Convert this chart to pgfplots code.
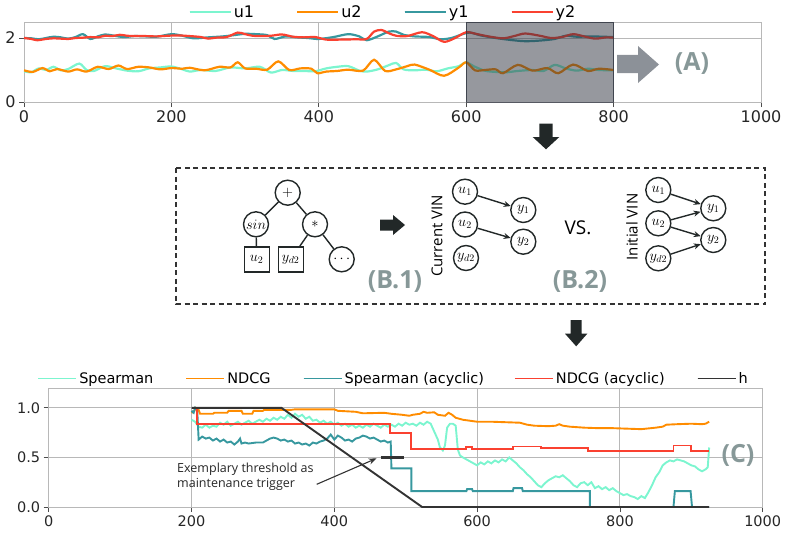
\documentclass[border=0pt]{standalone}
\usepackage{fontspec}
\setmainfont{DejaVu Sans}
\newfontfamily\osans{Open Sans}
\usepackage{pgfplots}
\pgfplotsset{compat=1.18}
\usetikzlibrary{arrows.meta}

\definecolor{cmint}{HTML}{7CF5CF}
\definecolor{corange}{HTML}{FF8C00}
\definecolor{cteal}{HTML}{37989F}
\definecolor{cred}{HTML}{FA4130}
\definecolor{cdark}{HTML}{333333}
\definecolor{cblk}{HTML}{222828}
\definecolor{cgridc}{HTML}{B8B8B8}
\definecolor{clabel}{RGB}{135,152,152}
\definecolor{cbox}{RGB}{45,50,62}
\definecolor{carrowg}{RGB}{140,145,152}

\newcommand{\gap}[1]{\rule{#1}{0pt}}

\pgfplotsset{
  common/.style={
    scale only axis,
    grid=major,
    grid style={color=cgridc, line width=0.9pt},
    axis line style={cgridc, line width=0.9pt},
    tick align=outside,
    major tick length=5pt,
    tick style={color=black!70, line width=0.8pt},
    xtick pos=bottom, ytick pos=left,
    /pgf/number format/assume math mode=true,
    /pgf/number format/1000 sep={},
    legend cell align=left,
    legend image code/.code={\draw[##1] (0pt,0pt) -- (32pt,0pt); \path (0pt,0pt) -- (41pt,0pt);},
  },
}

\begin{document}
\begin{tikzpicture}

% ---------------- (A) signals ----------------
\begin{axis}[common,
  at={(24pt,-102pt)}, anchor=south west,
  width=737pt, height=80pt,
  xmin=0, xmax=1000, ymin=0, ymax=2.5,
  xtick={0,200,...,1000}, ytick={0,2},
  ticklabel style={font=\fontsize{16}{16}\selectfont, text=black!85},
  legend columns=4,
  legend style={at={(0.487,1)}, anchor=south, draw=none, fill=none,
    font=\fontsize{16}{16}\selectfont, inner sep=1pt},
  every axis plot/.append style={line width=2.2pt},
]
% u1
\addplot[cmint, smooth] coordinates {(0,0.96)(10,0.93)(20,1.05)(30,1.0)(40,1.1)(50,0.99)(60,1.03)(75,1.2)(85,1.0)(95,0.97)(110,1.12)(125,1.05)(140,0.98)(155,0.96)(170,1.05)(185,1.08)(200,1.11)(215,1.02)(225,0.95)(240,1.0)(260,0.97)(280,1.08)(300,1.05)(320,1.1)(335,0.92)(350,1.0)(365,0.97)(380,0.97)(395,0.96)(410,1.05)(425,1.1)(440,1.12)(455,0.98)(465,0.95)(480,1.02)(495,1.15)(505,1.22)(515,1.02)(530,0.99)(545,1.01)(560,0.96)(575,1.05)(590,1.12)(600,1.24)(610,1.12)(625,0.98)(640,0.94)(655,0.93)(670,0.97)(690,1.0)(705,0.97)(720,1.16)(735,1.05)(750,0.98)(765,1.04)(780,1.0)(800,0.99)};
\addlegendentry{u1\gap{40pt}}
% u2
\addplot[corange, smooth] coordinates {(0,0.99)(12,0.94)(25,1.06)(35,0.96)(45,1.03)(60,0.95)(72,1.02)(85,0.95)(100,1.1)(115,1.03)(128,1.14)(140,1.03)(155,1.1)(170,1.08)(185,1.02)(200,1.06)(215,1.04)(225,1.07)(245,0.99)(265,1.1)(280,1.08)(290,1.24)(300,1.05)(315,1.04)(330,1.01)(345,1.27)(360,1.0)(375,1.05)(390,1.04)(398,0.9)(410,0.95)(425,0.97)(440,1.01)(460,0.98)(475,1.32)(490,0.97)(505,1.02)(520,1.12)(530,1.17)(550,1.01)(570,0.82)(590,1.08)(600,1.24)(612,0.99)(625,1.0)(640,1.02)(650,0.9)(670,1.16)(690,0.98)(710,1.06)(725,0.9)(745,1.17)(765,0.97)(780,1.04)(800,1.0)};
\addlegendentry{u2\gap{40pt}}
% y1
\addplot[cteal, smooth] coordinates {(0,2.0)(10,1.99)(20,1.96)(30,2.0)(40,2.04)(50,2.02)(60,1.98)(70,2.03)(80,2.12)(90,1.97)(100,2.05)(110,2.11)(120,2.08)(135,2.03)(150,2.06)(165,2.05)(180,2.04)(200,2.12)(215,2.07)(230,1.99)(250,2.02)(270,2.05)(285,2.09)(300,2.13)(315,2.12)(330,2.09)(340,1.97)(355,2.05)(370,2.02)(385,2.0)(400,1.97)(420,2.03)(440,2.12)(455,2.05)(465,1.93)(480,2.05)(495,2.2)(505,2.2)(515,2.1)(530,2.05)(550,2.03)(565,1.96)(580,2.0)(595,2.12)(605,2.17)(620,2.08)(640,2.0)(660,1.94)(680,1.9)(700,1.92)(720,1.97)(735,2.07)(750,2.04)(770,2.05)(785,2.04)(800,2.03)};
\addlegendentry{y1\gap{40pt}}
% y2
\addplot[cred, smooth] coordinates {(0,2.0)(10,1.97)(18,1.93)(30,1.97)(40,1.99)(50,1.98)(60,1.97)(70,2.0)(80,2.01)(90,2.03)(100,2.02)(110,2.07)(120,2.06)(130,2.1)(140,2.07)(150,2.06)(165,2.06)(180,2.05)(195,2.07)(210,2.08)(225,2.06)(240,2.03)(250,1.98)(260,2.01)(275,2.03)(290,2.17)(300,2.12)(310,2.07)(320,2.06)(335,2.07)(350,2.11)(365,2.04)(380,2.02)(395,2.03)(410,1.95)(430,1.95)(450,1.96)(465,1.97)(475,2.2)(485,2.25)(495,2.15)(505,2.07)(520,2.06)(540,2.18)(555,2.06)(570,1.88)(585,2.0)(600,2.18)(615,2.12)(630,2.05)(650,1.99)(665,2.06)(680,2.14)(700,2.07)(715,2.0)(730,2.03)(745,2.12)(760,2.05)(775,1.98)(790,2.02)(800,2.01)};
\addlegendentry{y2}
\fill[cbox, fill opacity=0.5] (axis cs:600,0) rectangle (axis cs:800,2.5);
\draw[cbox, opacity=0.7, line width=0.8pt] (axis cs:600,0) rectangle (axis cs:800,2.5);
\end{axis}

% ---------------- (C) rankings ----------------
\begin{axis}[common,
  at={(48.7pt,-507pt)}, anchor=south west,
  width=714pt, height=119pt,
  xmin=0, xmax=1000, ymin=0, ymax=1.2,
  xtick={0,200,...,1000}, ytick={0,0.5,1.0},
  yticklabel style={/pgf/number format/.cd, fixed, fixed zerofill, precision=1},
  ticklabel style={font=\fontsize{14.5}{14.5}\selectfont, text=black!85},
  legend columns=5,
  legend style={at={(0.483,1)}, anchor=south, draw=none, fill=none,
    font=\fontsize{14.5}{14.5}\selectfont, inner sep=1pt},
  legend image code/.code={\draw[#1] (0pt,0pt) -- (31pt,0pt); \path (0pt,0pt) -- (38pt,0pt);},
  every axis plot/.append style={line width=1.9pt},
]
% Spearman
\addplot[cmint] coordinates {(200,0.88)(205,0.86)(210,0.81)(215,0.80)(220,0.83)(225,0.80)(230,0.82)(235,0.81)(240,0.85)(245,0.83)(250,0.86)(255,0.82)(260,0.84)(265,0.86)(270,0.83)(275,0.85)(280,0.87)(285,0.84)(290,0.86)(295,0.88)(300,0.86)(305,0.89)(310,0.87)(315,0.90)(320,0.88)(325,0.91)(330,0.89)(335,0.93)(340,0.90)(345,0.94)(350,0.91)(355,0.93)(360,0.89)(365,0.91)(370,0.87)(375,0.88)(380,0.85)(385,0.87)(390,0.84)(395,0.86)(400,0.83)(405,0.85)(410,0.82)(415,0.84)(420,0.81)(425,0.83)(430,0.80)(435,0.82)(440,0.80)(445,0.83)(450,0.81)(455,0.84)(460,0.82)(465,0.80)(470,0.83)(475,0.81)(480,0.83)(485,0.81)(490,0.84)(495,0.82)(500,0.85)(505,0.83)(510,0.84)(515,0.82)(520,0.85)(525,0.83)(530,0.86)(535,0.84)(540,0.76)(545,0.68)(548,0.60)(552,0.57)(555,0.62)(558,0.80)(562,0.84)(566,0.84)(570,0.82)(573,0.58)(576,0.52)(580,0.50)(585,0.48)(590,0.46)(595,0.44)(600,0.42)(605,0.45)(610,0.43)(615,0.46)(620,0.44)(625,0.47)(630,0.45)(635,0.48)(640,0.46)(645,0.50)(650,0.47)(655,0.44)(660,0.40)(665,0.37)(670,0.33)(675,0.30)(680,0.26)(685,0.22)(690,0.20)(695,0.24)(700,0.27)(705,0.29)(710,0.31)(715,0.30)(720,0.32)(725,0.29)(730,0.26)(735,0.22)(740,0.20)(745,0.24)(750,0.25)(755,0.22)(760,0.25)(765,0.19)(770,0.21)(775,0.18)(780,0.20)(785,0.17)(790,0.19)(795,0.16)(800,0.14)(805,0.12)(810,0.13)(815,0.11)(820,0.10)(825,0.08)(830,0.11)(835,0.09)(840,0.15)(845,0.22)(850,0.30)(855,0.35)(860,0.42)(865,0.45)(870,0.47)(875,0.46)(880,0.48)(885,0.47)(890,0.46)(895,0.44)(900,0.42)(905,0.41)(910,0.38)(915,0.36)(920,0.38)(923,0.40)(925,0.60)};
\addlegendentry{Spearman\gap{30pt}}
% NDCG
\addplot[corange] coordinates {(200,0.95)(204,0.97)(206,1.0)(210,0.98)(212,0.94)(230,0.94)(232,0.95)(250,0.95)(252,0.97)(270,0.97)(272,0.94)(285,0.94)(287,0.97)(300,0.97)(302,0.98)(340,0.98)(345,0.985)(400,0.985)(405,0.97)(430,0.96)(440,0.945)(470,0.95)(480,0.94)(495,0.93)(505,0.92)(510,0.93)(520,0.94)(525,0.96)(530,0.95)(540,0.955)(545,0.93)(555,0.92)(560,0.95)(565,0.93)(570,0.90)(580,0.88)(590,0.87)(600,0.86)(620,0.86)(640,0.855)(660,0.85)(670,0.83)(680,0.82)(700,0.815)(710,0.82)(715,0.835)(720,0.82)(730,0.81)(750,0.80)(770,0.795)(790,0.795)(810,0.79)(830,0.785)(850,0.80)(860,0.81)(865,0.83)(880,0.835)(900,0.84)(915,0.835)(920,0.84)(925,0.86)};
\addlegendentry{NDCG\gap{30pt}}
% Spearman (acyclic)
\addplot[cteal] coordinates {(200,0.97)(203,0.95)(205,1.0)(208,0.98)(210,0.68)(215,0.71)(220,0.69)(225,0.70)(230,0.67)(235,0.69)(240,0.66)(245,0.68)(250,0.65)(255,0.66)(260,0.63)(265,0.66)(268,0.69)(270,0.64)(275,0.65)(280,0.64)(290,0.65)(300,0.65)(305,0.67)(310,0.69)(315,0.70)(320,0.69)(325,0.67)(330,0.68)(335,0.66)(340,0.67)(345,0.64)(350,0.65)(355,0.63)(360,0.64)(365,0.62)(370,0.65)(375,0.64)(380,0.66)(385,0.67)(390,0.69)(395,0.73)(400,0.68)(405,0.72)(410,0.70)(415,0.67)(420,0.68)(425,0.66)(430,0.69)(435,0.70)(440,0.72)(445,0.71)(450,0.69)(455,0.70)(460,0.68)(465,0.66)(470,0.67)(475,0.65)(479,0.66)(480,0.39)(508,0.39)(508,0.16)(585,0.16)(586,0.18)(593,0.18)(594,0.16)(650,0.16)(651,0.19)(663,0.19)(664,0.16)(758,0.16)(758,0)(875,0)(877,0.16)(899,0.16)(901,0)(925,0)};
\addlegendentry{Spearman (acyclic)\gap{28pt}}
% NDCG (acyclic)
\addplot[cred] coordinates {(200,1.0)(208,1.0)(208,0.835)(478,0.835)(478,0.75)(508,0.75)(508,0.585)(585,0.585)(585,0.605)(593,0.605)(593,0.585)(650,0.585)(650,0.61)(690,0.61)(690,0.595)(755,0.595)(755,0.565)(875,0.565)(875,0.62)(899,0.62)(899,0.565)(925,0.565)};
\addlegendentry{NDCG (acyclic)\gap{30pt}}
% h
\addplot[cdark] coordinates {(200,1.0)(326,1.0)(523,0)(925,0)};
\addlegendentry{h}
% threshold
\addplot[cdark, line width=3.5pt, forget plot] coordinates {(465,0.5)(498,0.5)};
\end{axis}

% annotations of (C)
\node[anchor=west, align=left, font=\osans\fontsize{12.5}{15}\selectfont, text=black!85, inner sep=0pt]
  at (177pt,-476.5pt) {Exemplary threshold as\\maintenance trigger};
\draw[-{Stealth[length=8pt,width=6pt]}, cdark, line width=1.1pt] (316.7pt,-484.3pt) -- (376.7pt,-458.3pt);
\node[font=\osans\bfseries\fontsize{25}{25}\selectfont, text=clabel] at (738pt,-455pt) {(C)};

% (A) label and arrow
\fill[carrowg] (617pt,-55pt) -- (638pt,-55pt) -- (638pt,-46pt) -- (659pt,-64.5pt) -- (638pt,-83pt) -- (638pt,-73pt) -- (617pt,-73pt) -- cycle;
\node[font=\osans\bfseries\fontsize{25}{25}\selectfont, text=clabel] at (692pt,-64pt) {(A)};

% down arrows
\fill[cblk] (539.3pt,-123.7pt) -- (552.7pt,-123.7pt) -- (552.7pt,-137pt) -- (559.3pt,-137pt) -- (546pt,-149.3pt) -- (532.7pt,-137pt) -- (539.3pt,-137pt) -- cycle;
\fill[cblk] (570.7pt,-320pt) -- (581.7pt,-320pt) -- (581.7pt,-333.7pt) -- (587.3pt,-333.7pt) -- (576.2pt,-346.3pt) -- (565pt,-333.7pt) -- (570.7pt,-333.7pt) -- cycle;

% ---------------- (B) diagram ----------------
\draw[cdark, line width=2pt, dash pattern=on 5pt off 3.5pt] (176pt,-168pt) rectangle (765pt,-304pt);
\begin{scope}[
  vn/.style={circle, draw=cblk, line width=1.4pt, minimum size=25pt, inner sep=0pt, font=\fontsize{14}{14}\selectfont},
  sq/.style={rectangle, draw=cblk, line width=1.4pt, minimum size=25pt, inner sep=0pt, font=\fontsize{14}{14}\selectfont},
  ed/.style={cblk, line width=1.4pt},
  ar/.style={cblk, line width=1.4pt, -{Stealth[length=7pt,width=6pt]}},
]
% expression tree
\node[vn] (p) at (287.7pt,-192.7pt) {$+$};
\node[vn, font=\fontsize{15}{15}\selectfont] (s) at (256pt,-224.3pt) {$sin$};
\node[vn] (m) at (315pt,-224.3pt) {$*$};
\node[sq] (a) at (256.7pt,-259.3pt) {$u_2$};
\node[sq] (b) at (290.7pt,-259.3pt) {$y_{d2}$};
\node[vn] (c) at (341.7pt,-259.3pt) {$\cdots$};
\draw[ed] (p) -- (s); \draw[ed] (p) -- (m);
\draw[ed] (s) -- (a); \draw[ed] (m) -- (b); \draw[ed] (m) -- (c);
\fill[cblk] (380pt,-219.5pt) -- (393pt,-219.5pt) -- (393pt,-215pt) -- (405pt,-225pt) -- (393pt,-235pt) -- (393pt,-230.5pt) -- (380pt,-230.5pt) -- cycle;
\node[font=\osans\bfseries\fontsize{25}{25}\selectfont, text=clabel] at (395pt,-281.5pt) {(B.1)};
% current VIN
\node[rotate=90, font=\osans\fontsize{15}{15}\selectfont] at (437pt,-236pt) {Current VIN};
\node[vn] (cu1) at (465pt,-191.7pt) {$u_1$};
\node[vn] (cu2) at (465pt,-224.5pt) {$u_2$};
\node[vn] (cyd) at (466pt,-258pt) {$y_{d2}$};
\node[vn] (cy1) at (523.3pt,-210pt) {$y_1$};
\node[vn] (cy2) at (523.3pt,-241.7pt) {$y_2$};
\draw[ar] (cu1) -- (cy1); \draw[ar] (cu2) -- (cy2);
\node[font=\osans\fontsize{19}{19}\selectfont] at (578pt,-228pt) {VS.};
\node[font=\osans\bfseries\fontsize{25}{25}\selectfont, text=clabel] at (580pt,-281.7pt) {(B.2)};
% initial VIN
\node[rotate=90, font=\osans\fontsize{15}{15}\selectfont] at (632pt,-227pt) {Initial VIN};
\node[vn] (iu1) at (658.3pt,-190pt) {$u_1$};
\node[vn] (iu2) at (658.3pt,-223.3pt) {$u_2$};
\node[vn] (iyd) at (658.3pt,-258.3pt) {$y_{d2}$};
\node[vn] (iy1) at (713.3pt,-208.3pt) {$y_1$};
\node[vn] (iy2) at (713.3pt,-240pt) {$y_2$};
\draw[ar] (iu1) -- (iy1); \draw[ar] (iu2) -- (iy1);
\draw[ar] (iu2) -- (iy2); \draw[ar] (iyd) -- (iy2);
\end{scope}

\pgfresetboundingbox
\path[use as bounding box] (0pt,0pt) rectangle (789pt,-535pt);
\end{tikzpicture}
\end{document}
